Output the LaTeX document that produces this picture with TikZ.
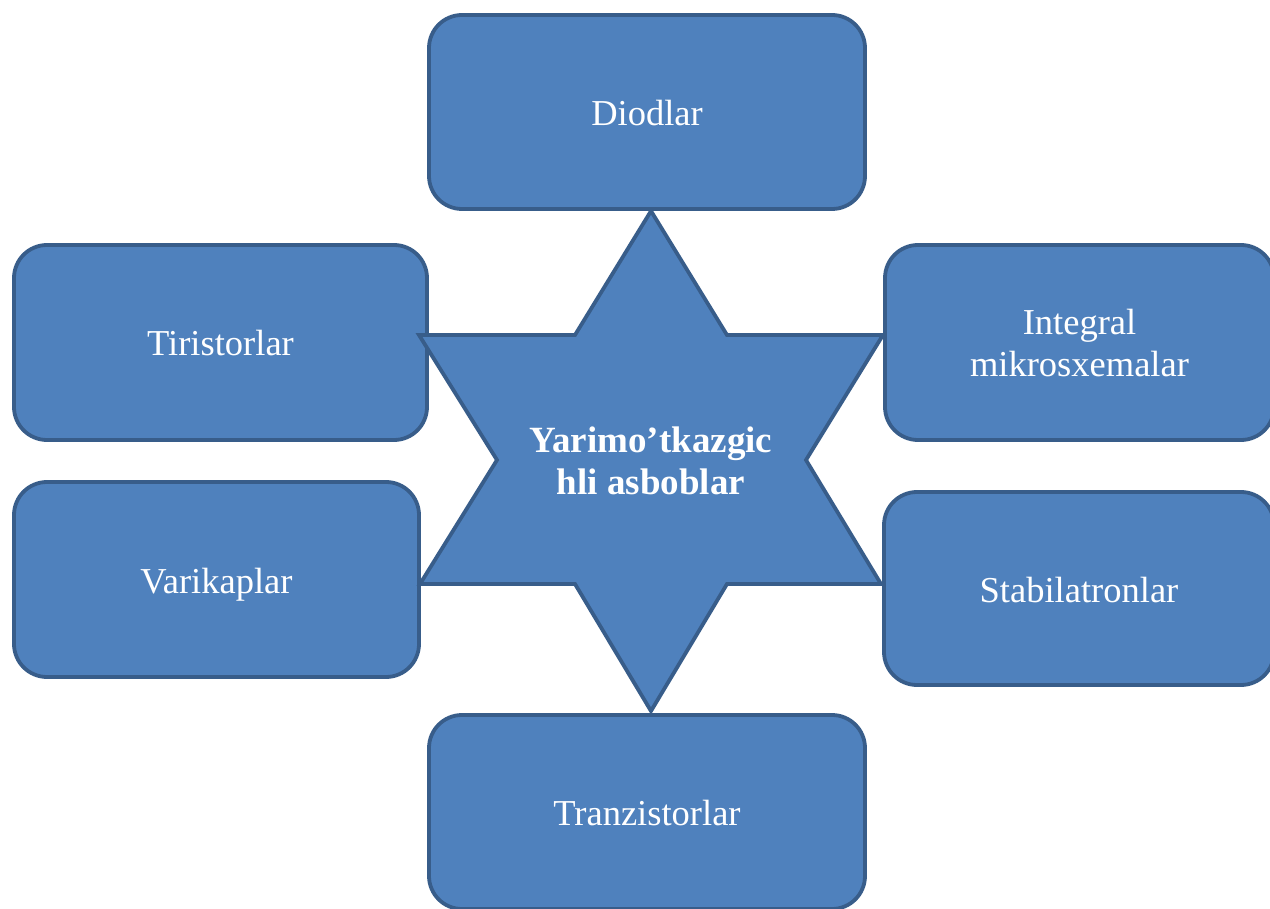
\documentclass[tikz,border=0pt]{standalone}
\usepackage{fontspec}
\setmainfont{Liberation Serif}
\definecolor{boxfill}{HTML}{4F81BD}
\definecolor{boxline}{HTML}{385D8A}
\begin{document}
\begin{tikzpicture}[x=1pt,y=-1pt,
  itembox/.style={draw=boxline, fill=boxfill, line width=3.8pt, rounded corners=33pt,
    text=white, font=\fontsize{36.5}{42}\selectfont, inner sep=0pt,
    text height=35pt, text depth=8pt, align=center},
  twoline/.style={text height=77pt, text depth=8pt},
  starshape/.style={draw=boxline, fill=boxfill, line width=3.8pt, line join=miter},
  startext/.style={text=white, font=\fontsize{37}{42}\selectfont\bfseries, inner sep=0pt,
    align=center, text height=77pt, text depth=8pt}
]
\useasboundingbox (0,0) rectangle (1270,909);
\clip (0,0) rectangle (1270,909);
\node[itembox, minimum width=436pt, minimum height=194pt] (diod) at (647,112) {Diodlar};
\node[itembox, minimum width=413pt, minimum height=195pt] (tiri) at (220.5,342.5) {Tiristorlar};
\node[itembox, minimum width=405pt, minimum height=195pt] (vari) at (216.5,579.5) {Varikaplar};
\node[itembox, twoline, minimum width=389pt, minimum height=195pt] (integ) at (1079.5,342.5) {Integral\\mikrosxemalar};
\node[itembox, minimum width=390pt, minimum height=193pt] (stab) at (1079,588.5) {Stabilatronlar};
\node[itembox, minimum width=436pt, minimum height=194pt] (tranz) at (647,812) {Tranzistorlar};
\draw[starshape] (651,211) -- (727,335) -- (883,335) -- (806,460) -- (881,584) -- (727,584)
  -- (651,711) -- (575,584) -- (420,584) -- (497,460) -- (419,335) -- (575,335) -- cycle;
\node[startext] (center) at (651,460) {Yarimo’tkazgic\\hli asboblar};
\end{tikzpicture}
\end{document}
